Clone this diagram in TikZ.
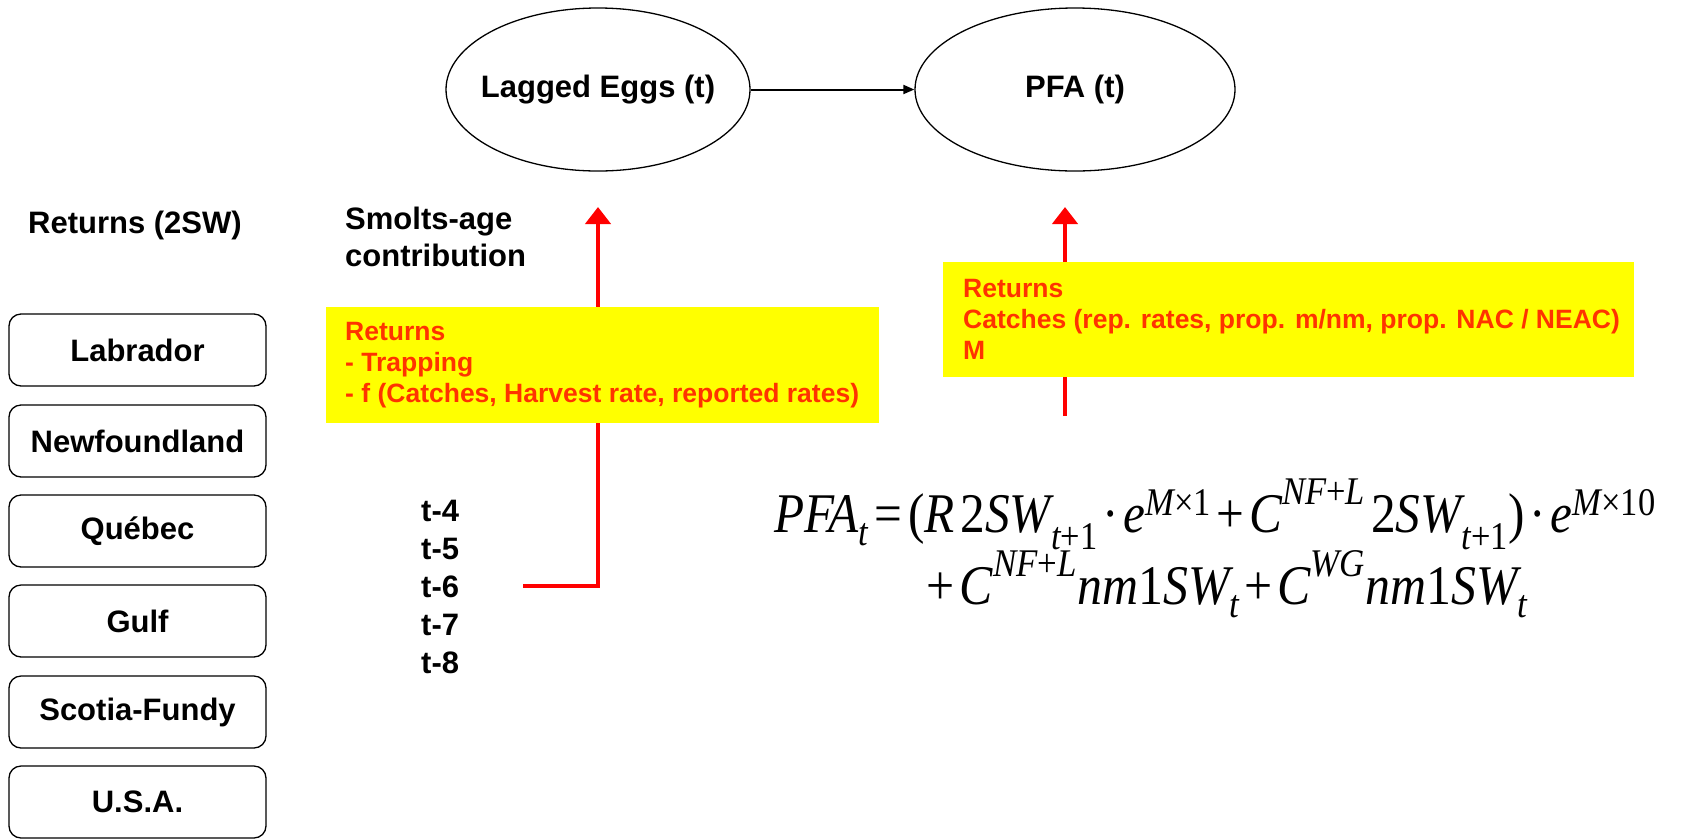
\documentclass[tikz,border=0pt]{standalone}
\usepackage{amsmath}
\usepackage{graphicx}
\usepackage{fontspec}
\setmainfont{Liberation Sans}
\newfontfamily\tmr{Liberation Serif}
\usetikzlibrary{shapes.geometric,arrows.meta}

% italic and upright pieces of the formula, set in a Times-like face
\newcommand{\eqit}[1]{\text{\tmr\itshape #1}}
\newcommand{\equp}[1]{\text{\tmr\upshape #1}}

\definecolor{notered}{RGB}{255,51,0}
\definecolor{noteyellow}{RGB}{255,255,0}
\definecolor{flowred}{RGB}{255,0,0}

\tikzset{
  lbl/.style={font=\bfseries\fontsize{31}{37}\selectfont, inner sep=0pt},
  egg/.style={ellipse, draw=black, line width=1.3pt, inner sep=0pt},
  region/.style={draw=black, line width=1.3pt, rounded corners=12pt,
    minimum width=257pt, minimum height=72pt, inner sep=0pt,
    font=\bfseries\fontsize{31}{37}\selectfont},
  notebox/.style={fill=noteyellow, draw=none, inner sep=0pt, anchor=north west},
  notetext/.style={text=notered, font=\bfseries\fontsize{26.5}{31}\selectfont,
    align=left, inner sep=0pt, anchor=west},
  flow/.style={draw=flowred, line width=4.5pt,
    -{Triangle[length=17pt,width=25pt]}},
  link/.style={draw=black, line width=2pt, -{Triangle[length=11pt,width=9pt]}},
  formula/.style={font=\fontsize{56}{64}\selectfont, inner sep=0pt, anchor=base}
}

\begin{document}
\begin{tikzpicture}[x=1pt,y=-1pt]
\useasboundingbox (0,0) rectangle (1702,839);

% top: the two stages
\node[egg, minimum width=304pt, minimum height=163pt] (eggs) at (598,89.5) {};
\node[lbl] at (eggs.center) {Lagged Eggs (t)};
\node[egg, minimum width=320pt, minimum height=163pt] (pfa) at (1075,89.5) {};
\node[lbl] at (pfa.center) {PFA (t)};
\draw[link] (eggs.east) -- (pfa.west);

% column headings
\node[lbl, anchor=west] (rethead) at (28,225) {Returns (2SW)};
\node[lbl, anchor=north west, align=left, font=\bfseries\fontsize{31}{37}\selectfont]
  (smolthead) at (345,207) {Smolts-age\\contribution};

% regions
\node[region] (lab) at (137.5,350) {Labrador};
\node[region] (nfl) at (137.5,441) {Newfoundland};
\node[region] (que) at (137.5,531) {Québec};
\node[region] (gulf) at (137.5,621) {Gulf};
\node[region] (sf) at (137.5,712) {Scotia-Fundy};
\node[region] (usa) at (137.5,802) {U.S.A.};

% smolt ages
\node[lbl, anchor=west] (t4) at (421,511) {t-4};
\node[lbl, anchor=west] (t5) at (421,549) {t-5};
\node[lbl, anchor=west] (t6) at (421,587) {t-6};
\node[lbl, anchor=west] (t7) at (421,625) {t-7};
\node[lbl, anchor=west] (t8) at (421,663) {t-8};

% red flows towards the two stages
\coordinate (flowAstart) at (523,586);
\coordinate (flowAtip) at (598,207);
\coordinate (flowBstart) at (1065,416);
\coordinate (flowBtip) at (1065,207);
\draw[flow] (flowAstart) -| (flowAtip);
\draw[flow] (flowBstart) -- (flowBtip);

% data notes
\node[notebox, minimum width=553pt, minimum height=116pt] (noteA) at (326,307) {};
\node[notetext] at ([xshift=19pt]noteA.west)
  {Returns\\- Trapping\\- f (Catches, Harvest rate, reported rates)};
\node[notebox, minimum width=691pt, minimum height=115pt] (noteB) at (943,262) {};
\node[notetext] at ([xshift=20pt]noteB.west)
  {Returns\\Catches (rep. rates, prop. m/nm, prop. NAC / NEAC)\\M};

% PFA equation, slightly condensed
\node[formula] (eqA) at (1215,532) {\scalebox{0.88}[1]{$\eqit{PFA}_{\eqit{t}} \mathrel{\equp{=}}
  \equp{(}\eqit{R}\;\equp{2}\eqit{SW}_{\eqit{t}\equp{+1}} \mathbin{\equp{·}} \eqit{e}^{\eqit{M}\equp{×1}}
  \mathbin{\equp{+}} \eqit{C}^{\eqit{NF}\equp{+}\eqit{L}}\;\equp{2}\eqit{SW}_{\eqit{t}\equp{+1}}\equp{)}
  \mathbin{\equp{·}} \eqit{e}^{\eqit{M}\equp{×10}}$}};
\node[formula] (eqB) at (1225,604) {\scalebox{0.89}[1]{${}\mathbin{\equp{+}} \eqit{C}^{\eqit{NF}\equp{+}\eqit{L}}\eqit{nm}\equp{1}\eqit{SW}_{\eqit{t}}
  \mathbin{\equp{+}} \eqit{C}^{\eqit{WG}}\eqit{nm}\equp{1}\eqit{SW}_{\eqit{t}}$}};
\end{tikzpicture}
\end{document}
